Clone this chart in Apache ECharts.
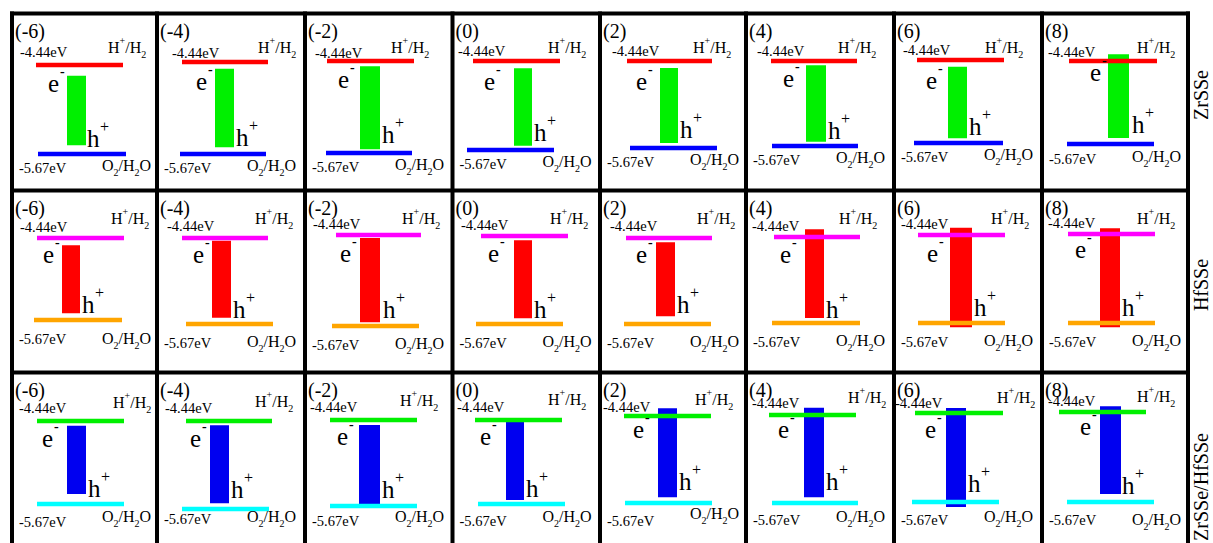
<!DOCTYPE html>
<html>
<head>
<meta charset="utf-8">
<script src="https://cdn.jsdelivr.net/npm/echarts@6/dist/echarts.min.js"></script>
<style>
  html, body { margin: 0; padding: 0; background: #fff; }
  #chart { width: 1213px; height: 543px; }
</style>
</head>
<body>
<div id="chart"></div>
<script>
// ---- data -------------------------------------------------------------
// biaxial strain (%) of each column
const strains = [-6, -4, -2, 0, 2, 4, 6, 8];
const materials = ['ZrSSe', 'HfSSe', 'ZrSSe/HfSSe'];
// water redox potentials (eV)
const levelH = -4.44; // H+/H2
const levelO = -5.67; // O2/H2O
// conduction / valence band edges (eV), one value per strain
const cbmZrSSe  = [-4.59, -4.53, -4.51, -4.54, -4.54, -4.50, -4.54, -4.34];
const vbmZrSSe  = [-5.55, -5.58, -5.62, -5.61, -5.60, -5.61, -5.60, -5.58];
const cbmHfSSe  = [-4.55, -4.48, -4.48, -4.50, -4.50, -4.33, -4.34, -4.36];
const vbmHfSSe  = [-5.57, -5.58, -5.62, -5.59, -5.56, -5.60, -5.73, -5.73];
const cbmHetero = [-4.51, -4.50, -4.51, -4.47, -4.33, -4.34, -4.37, -4.36];
const vbmHetero = [-5.52, -5.59, -5.67, -5.61, -5.59, -5.59, -5.74, -5.56];
const bandEdges = [[cbmZrSSe, vbmZrSSe], [cbmHfSSe, vbmHfSSe], [cbmHetero, vbmHetero]];

// ---- layout -----------------------------------------------------------
const colEdges = [12, 157, 305, 452.5, 600, 746, 894, 1042, 1188];
const rowEdges = [13.5, 190.5, 372.5, 560];
// per panel: [y of H+/H2, y of O2/H2O, upper line x0, x1, lower line x0, x1, band x0, x1]
const geom = [
  [[65,154, 36,123, 38,126, 67,86], [62,154, 182,268, 180,266, 215,234], [61,153, 327,414, 326,412, 360,380],
   [61,150, 473,560, 467,554, 514,532], [61,148, 627,712, 630,717, 660,678], [61,146, 771,857, 772,858, 806,826],
   [60,143, 917,1004, 914,1003, 948,967], [61,144, 1069,1157, 1067,1154, 1108,1129]],
  [[238,320, 37,124, 34,122, 62,80], [238,324, 182,268, 186,273, 212,231], [235,326, 336,421, 332,419, 360,380],
   [236,324, 481,568, 476,563, 514,532], [238,324, 626,712, 624,711, 656,675], [237,323, 774,860, 772,860, 805,824],
   [235,323, 918,1005, 918,1005, 950,972], [234,323, 1068,1155, 1068,1155, 1100,1120]],
  [[421,504, 37,124, 37,124, 67,86], [421,509, 186,272, 182,269, 210,229], [420,506, 330,417, 330,417, 359,380],
   [420,504, 475,562, 478,565, 506,524], [416,503, 624,711, 625,712, 658,677], [415,503, 769,856, 772,858, 804,824],
   [413,502, 915,1003, 912,999, 946,966], [412,502, 1059,1146, 1067,1154, 1100,1121]]
];
// text anchors per panel: x / baseline of "-4.44eV", "H+/H2", "-5.67eV", "O2/H2O", "e-", "h+"
const potTopX  = [[20,172,315,458,612,757,903,1048],[20,167,313,461,610,752,901,1048],[19,165,310,457,603,752,895,1048]];
const potTopY  = [[57,58,58,56,56,56,55,57],[232,231,229,230,231,231,229,228],[413,413,412,412,412,408,408,406]];
const coupleHX = [[108,258,391,548,693,838,985,1137],[111,255,402,550,697,839,991,1137],[113,255,400,548,695,848,997,1137]];
const coupleHY = [[53,53,53,53,53,53,53,53],[224,224,224,224,224,224,224,224],[408,407,406,405,405,403,403,402]];
const potBotY  = [[173,173,172,169,167,165,162,164],[344,348,350,348,348,347,347,347],[527,524,526,526,526,525,525,525]];
const coupleOY = [[171,171,170,167,165,163,160,162],[344,347,349,347,347,346,346,346],[522,522,522,522,519,522,522,525]];
const elecXY = [
  [[48,92],[196,90],[338,88],[484,90],[636,90],[783,87],[926,89],[1090,81]],
  [[43,263],[193,263],[340,262],[488,262],[636,263],[780,263],[927,262],[1075,258]],
  [[42,447],[190,447],[337,445],[480,445],[633,438],[778,438],[925,438],[1080,435]]
];
const holeXY = [
  [[87,147],[236,146],[382,143],[534,141],[680,138],[828,139],[969,135],[1132,133]],
  [[82,313],[233,318],[383,318],[534,318],[677,313],[826,318],[974,316],[1122,316]],
  [[88,497],[231,498],[382,498],[526,497],[679,490],[826,490],[968,492],[1122,494]]
];
const rowLabelY = [95, 285, 487];

const rowColors = [
  { up: '#ff0000', low: '#0000ff', band: '#00f000' },
  { up: '#ff00ff', low: '#ffa500', band: '#ff0000' },
  { up: '#00f000', low: '#00ffff', band: '#0000f0' }
];
const FONT = '"Liberation Serif", "Times New Roman", serif';
const LEVEL_W = 4.5;

// place single-line text by its alphabetic baseline
function textAt(x, baseline, text, size, weight) {
  return {
    type: 'text', x: x, y: baseline - 0.34 * size,
    style: { text: text, fill: '#000', fontSize: size, fontWeight: weight || 'normal', fontFamily: FONT, align: 'left', verticalAlign: 'middle' }
  };
}
// text with super- and subscripts, placed by the baseline of the main glyphs
function richAt(x, baseline, text) {
  const LH = 24;
  return {
    type: 'text', x: x, y: baseline - (LH / 2 + 0.34 * 16),
    style: {
      text: text, fill: '#000', align: 'left', verticalAlign: 'top', fontFamily: FONT,
      rich: {
        m: { fontSize: 16, fontFamily: FONT, lineHeight: LH, verticalAlign: 'middle', fill: '#000' },
        s: { fontSize: 10, fontFamily: FONT, verticalAlign: 'top', fill: '#000' },
        b: { fontSize: 10, fontFamily: FONT, verticalAlign: 'bottom', fill: '#000' }
      }
    }
  };
}

const grids = [], xAxes = [], yAxes = [], series = [];
for (let r = 0; r < 3; r++) {
  for (let c = 0; c < 8; c++) {
    const g = geom[r][c];
    const idx = r * 8 + c;
    grids.push({ left: colEdges[c], width: colEdges[c + 1] - colEdges[c], top: g[0], height: g[1] - g[0] });
    xAxes.push({ type: 'category', gridIndex: idx, data: ['(' + strains[c] + ')'], show: false });
    yAxes.push({ type: 'value', gridIndex: idx, min: levelO, max: levelH, show: false });
    const col = rowColors[r];
    const L = colEdges[c], T = rowEdges[r];
    series.push({
      type: 'custom',
      name: materials[r] + ' ' + strains[c],
      xAxisIndex: idx, yAxisIndex: idx,
      clip: false, silent: true,
      encode: { x: 0, y: [1, 2] },
      data: [[0, bandEdges[r][0][c], bandEdges[r][1][c]]],
      renderItem: function (params, api) {
        const yH = api.coord([0, levelH])[1];
        const yO = api.coord([0, levelO])[1];
        const yC = api.coord([0, api.value(1)])[1];
        const yV = api.coord([0, api.value(2)])[1];
        const e = elecXY[r][c], h = holeXY[r][c];
        return {
          type: 'group',
          children: [
            { type: 'rect', shape: { x: g[6], y: yC, width: g[7] - g[6], height: yV - yC }, style: { fill: col.band } },
            { type: 'rect', shape: { x: g[2], y: yH - LEVEL_W / 2, width: g[3] - g[2], height: LEVEL_W }, style: { fill: col.up } },
            { type: 'rect', shape: { x: g[4], y: yO - LEVEL_W / 2, width: g[5] - g[4], height: LEVEL_W }, style: { fill: col.low } },
            textAt(L + 3, T + 24, xAxes[idx].data[0], 20),
            textAt(potTopX[r][c], potTopY[r][c], levelH.toFixed(2) + 'eV', 14.5),
            richAt(coupleHX[r][c], coupleHY[r][c], '{m|H}{s|+}{m|/H}{b|2}'),
            textAt(L + 7, potBotY[r][c], levelO.toFixed(2) + 'eV', 14.5),
            richAt(L + 90, coupleOY[r][c], '{m|O}{b|2}{m|/H}{b|2}{m|O}'),
            textAt(e[0], e[1], 'e', 25),
            textAt(e[0] + 12, e[1] - 16, '-', 14, 'bold'),
            textAt(h[0], h[1], 'h', 25),
            textAt(h[0] + 13, h[1] - 15, '+', 16)
          ]
        };
      }
    });
  }
}

// panel frames and row captions
const graphics = [];
const frameBottom = 543;
colEdges.forEach(function (x) {
  graphics.push({ type: 'line', shape: { x1: x, y1: rowEdges[0] - 2, x2: x, y2: frameBottom + 5 }, style: { stroke: '#000', lineWidth: 4 } });
});
rowEdges.slice(0, 3).forEach(function (y) {
  graphics.push({ type: 'line', shape: { x1: colEdges[0] - 2, y1: y, x2: colEdges[8] + 2, y2: y }, style: { stroke: '#000', lineWidth: 4 } });
});
materials.forEach(function (m, r) {
  graphics.push({
    type: 'text', x: 1201, y: rowLabelY[r], rotation: Math.PI / 2,
    style: { text: m, fill: '#000', fontSize: 20, fontFamily: FONT, align: 'center', verticalAlign: 'middle' }
  });
});

const chart = echarts.init(document.getElementById('chart'), null, { renderer: 'svg' });
chart.setOption({
  animation: false,
  backgroundColor: '#fff',
  grid: grids, xAxis: xAxes, yAxis: yAxes, series: series,
  graphic: { elements: graphics }
});
</script>
</body>
</html>
